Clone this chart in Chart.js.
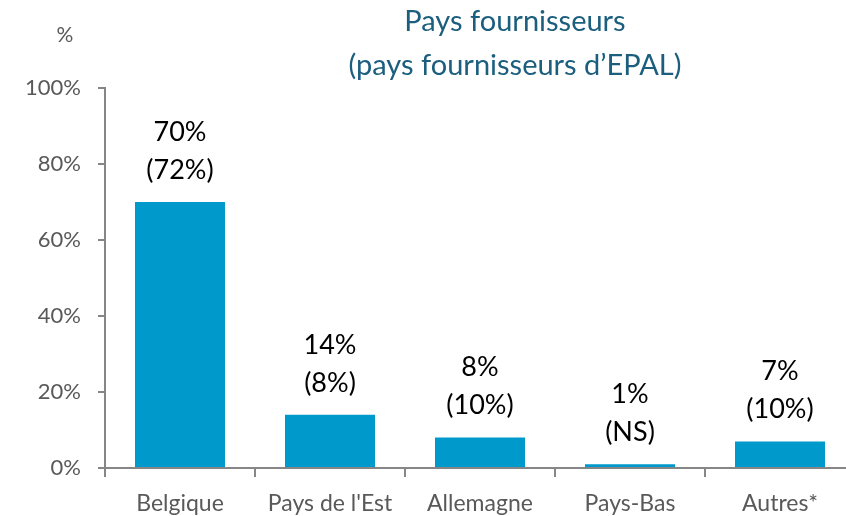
<!DOCTYPE html>
<html>
<head>
<meta charset="utf-8">
<script src="https://cdn.jsdelivr.net/npm/chart.js@4.4.1/dist/chart.umd.min.js"></script>
<style>
  html, body { margin: 0; padding: 0; background: #fff; overflow: hidden; }
  #wrap { width: 860px; height: 516px; }
</style>
</head>
<body>
<div id="wrap"><canvas id="fournChart" width="860" height="516"></canvas></div>
<script>
// DONNEES
const categories = ["Belgique", "Pays de l'Est", "Allemagne", "Pays-Bas", "Autres*"];
const values = [70, 14, 8, 1, 7];
const labelsTop = ["70%", "14%", "8%", "1%", "7%"];
const labelsEpal = ["(72%)", "(8%)", "(10%)", "(NS)", "(10%)"];
const yTicks = [0, 20, 40, 60, 80, 100];

const FONT = "Lato, 'Open Sans', sans-serif";
const GREY = "#868686";
const TEXT_GREY = "#595959";

// LABELS + TITRE
const labelPlugin = {
  id: "labelPlugin",
  afterDatasetsDraw(chart) {
    const ctx = chart.ctx;
    const meta = chart.getDatasetMeta(0);
    ctx.save();
    ctx.fillStyle = "#000";
    ctx.font = "27px " + FONT;
    ctx.textAlign = "center";
    ctx.textBaseline = "middle";
    meta.data.forEach((bar, i) => {
      ctx.fillText(labelsTop[i], bar.x, bar.y - 70);
      ctx.fillText(labelsEpal[i], bar.x, bar.y - 32);
    });

    // titre
    ctx.fillStyle = "#1B5E7E";
    ctx.font = "29px " + FONT;
    ctx.fillText("Pays fournisseurs", 515, 22);
    ctx.fillText("(pays fournisseurs d\u2019EPAL)", 515, 66);

    // unite
    ctx.fillStyle = TEXT_GREY;
    ctx.font = "21px " + FONT;
    ctx.fillText("%", 65, 35);
    ctx.restore();
  },
};

const ctx = document.getElementById("fournChart").getContext("2d");
new Chart(ctx, {
  type: "bar",
  data: {
    labels: categories,
    datasets: [
      {
        data: values,
        backgroundColor: "#0099CC",
        barPercentage: 0.6,
        categoryPercentage: 1,
      },
    ],
  },
  options: {
    responsive: false,
    animation: false,
    layout: { padding: { top: 88, left: 0, right: 5, bottom: 0 } },
    plugins: { legend: { display: false }, title: { display: false }, tooltip: { enabled: false } },
    scales: {
      x: {
        afterFit: (axis) => {
          axis.height = 48;
        },
        grid: { offset: true, drawOnChartArea: false, color: GREY, tickLength: 9, lineWidth: 2 },
        border: { color: GREY, width: 2 },
        ticks: { color: TEXT_GREY, font: { family: FONT, size: 23 }, padding: 13, maxRotation: 0 },
      },
      y: {
        min: 0,
        max: 100,
        afterBuildTicks: (axis) => {
          axis.ticks = yTicks.map((v) => ({ value: v }));
        },
        afterFit: (axis) => {
          axis.width = 105;
        },
        grid: { drawOnChartArea: false, color: GREY, tickLength: 7, lineWidth: 2 },
        border: { color: GREY, width: 2 },
        ticks: {
          color: TEXT_GREY,
          font: { family: FONT, size: 22 },
          padding: 17,
          callback: (v) => v + "%",
        },
      },
    },
  },
  plugins: [labelPlugin],
});
</script>
</body>
</html>
